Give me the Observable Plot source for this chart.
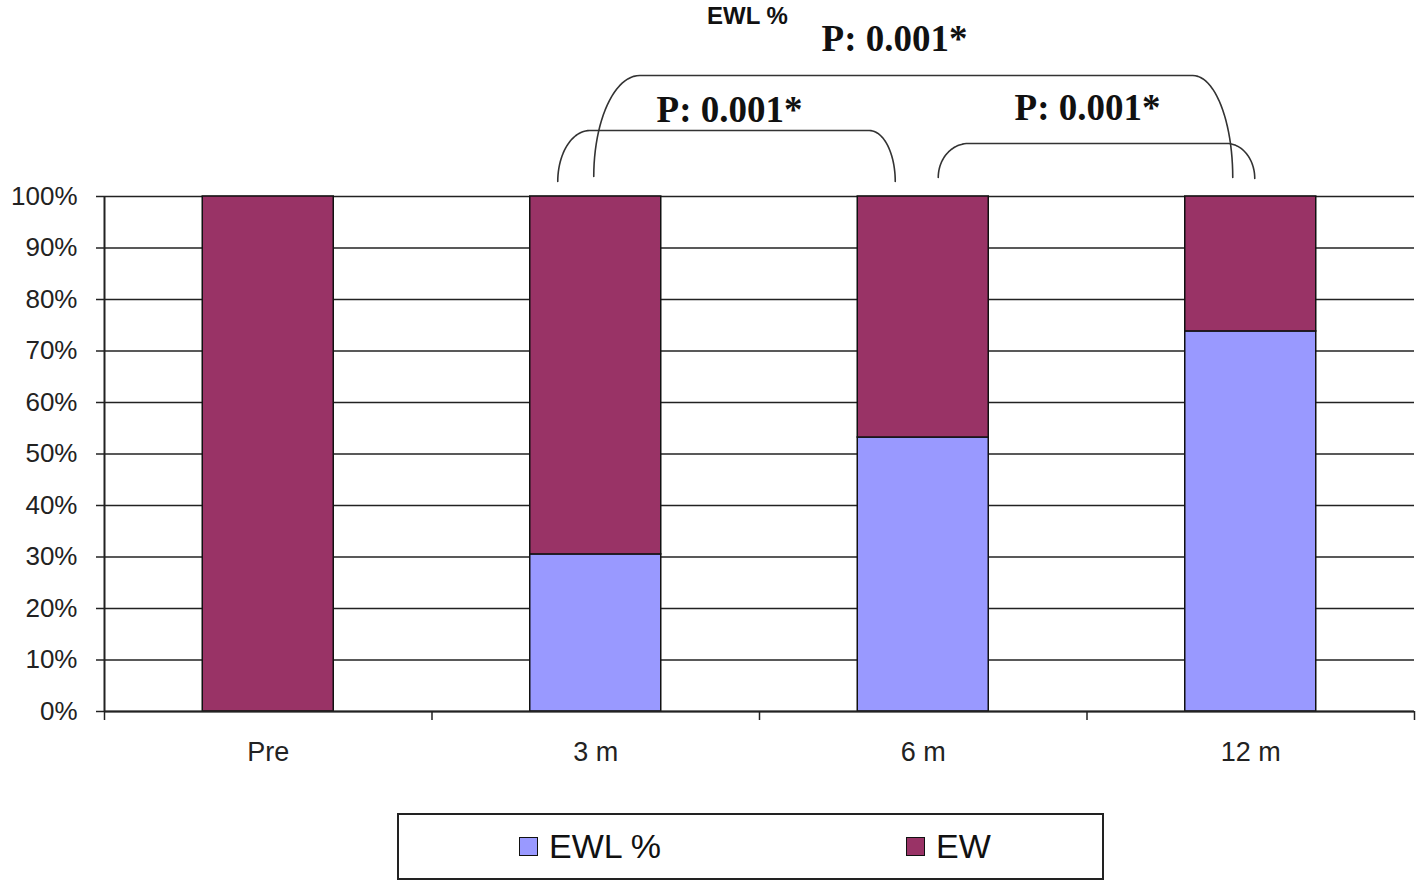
<!DOCTYPE html>
<html>
<head>
<meta charset="utf-8">
<script src="https://cdn.jsdelivr.net/npm/d3@7"></script>
<script src="https://cdn.jsdelivr.net/npm/@observablehq/plot@0.6"></script>
<style>
  html, body { margin: 0; padding: 0; background: #fff; }
  #wrap { position: relative; width: 1418px; height: 882px; font-family: "Liberation Sans", Arial, sans-serif; }
  #legend { position: absolute; left: 397px; top: 813px; width: 703px; height: 63px; border: 2px solid #222; box-sizing: content-box; }
  .item { position: absolute; top: 0; height: 63px; display: flex; align-items: center; font-size: 34px; color: #111; }
  .sw { width: 17px; height: 17px; border: 1.5px solid #111; margin-right: 11px; }
</style>
</head>
<body>
<div id="wrap">
  <div id="chart"></div>
  <div id="legend"></div>
</div>
<script>
// ---- data ----
const categories = ["Pre", "3 m", "6 m", "12 m"];
const seriesNames = ["EWL %", "EW"];
const seriesColors = ["#9999FF", "#993366"];
const ewlPercent = [0, 30.5, 53.2, 73.8];
const ewPercent = [100, 69.5, 46.8, 26.2];
const yTicks = [0, 10, 20, 30, 40, 50, 60, 70, 80, 90, 100];
const annotationTitle = "EWL %";
const comparisons = [
  { from: "3 m", to: "6 m", label: "P: 0.001*" },
  { from: "6 m", to: "12 m", label: "P: 0.001*" },
  { from: "3 m", to: "12 m", label: "P: 0.001*" }
];

// ---- layout helpers (pixels -> data units) ----
const W = 1418, H = 800, ML = 104, MR = 4, MT = 196, MB = 89;
const unitPx = (W - ML - MR) / 4;
const plotH = H - MT - MB;
const px2x = px => (px - ML) / unitPx - 0.5;
const py2y = py => (H - MB - py) / plotH * 100;

// stacked rows
const rows = [];
categories.forEach((c, i) => {
  const vals = [ewlPercent[i], ewPercent[i]];
  let acc = 0;
  seriesNames.forEach((s, k) => {
    if (vals[k] > 0) rows.push({ i, cat: c, series: s, y1: acc, y2: acc + vals[k] });
    acc += vals[k];
  });
});

// bracket styling (pixel offsets from category centers), one per comparison
const bracketStyle = [
  { dxL: -38, dxR: -28, ybL: 181, ybR: 181, top: 130, rxL: 32, rxR: 26, lx: 729, ly: 110 },
  { dxL: 15,  dxR: 4,   ybL: 177, ybR: 178, top: 143, rxL: 30, rxR: 28, lx: 1087, ly: 108 },
  { dxL: -2,  dxR: -18, ybL: 176, ybR: 177, top: 75,  rxL: 46, rxR: 40, lx: 894, ly: 39 }
];
const catCenterPx = c => ML + (categories.indexOf(c) + 0.5) * unitPx;

const bracketPts = [];
const bracketLabels = [];
comparisons.forEach((cmp, j) => {
  const st = bracketStyle[j];
  const L = catCenterPx(cmp.from) + st.dxL;
  const R = catCenterPx(cmp.to) + st.dxR;
  const n = 24;
  for (let k = 0; k <= n; k++) {
    const t = k / n * Math.PI / 2;
    bracketPts.push({ id: j, x: px2x(L + st.rxL * (1 - Math.cos(t))), y: py2y(st.ybL - (st.ybL - st.top) * Math.sin(t)) });
  }
  for (let k = n; k >= 0; k--) {
    const t = k / n * Math.PI / 2;
    bracketPts.push({ id: j, x: px2x(R - st.rxR * (1 - Math.cos(t))), y: py2y(st.ybR - (st.ybR - st.top) * Math.sin(t)) });
  }
  bracketLabels.push({ x: px2x(st.lx), y: py2y(st.ly), text: cmp.label });
});

const chart = Plot.plot({
  width: W, height: H,
  marginLeft: ML, marginRight: MR, marginTop: MT, marginBottom: MB,
  style: { fontFamily: "Liberation Sans, Arial, sans-serif", background: "#fff", color: "#222" },
  x: { domain: [-0.5, 3.5], axis: null },
  y: { domain: [0, 100], axis: null },
  color: { domain: seriesNames, range: seriesColors },
  marks: [
    Plot.ruleY(yTicks, { stroke: "#222", strokeWidth: 1.4 }),
    Plot.rect(rows, {
      x1: d => d.i - 0.2, x2: d => d.i + 0.2, y1: "y1", y2: "y2",
      fill: "series", stroke: "#111", strokeWidth: 1.5
    }),
    Plot.ruleX([-0.5], { y1: 0, y2: 100, stroke: "#222", strokeWidth: 2 }),
    Plot.ruleY([0], { stroke: "#222", strokeWidth: 2 }),
    Plot.axisY({ ticks: yTicks, tickFormat: d => d + "%", tickSize: 8, tickPadding: 19, fontSize: 26, stroke: "#222", strokeWidth: 1.5, fill: "#222", label: null }),
    Plot.axisX({ ticks: [-0.5, 0.5, 1.5, 2.5, 3.5], tickFormat: () => "", tickSize: 9, stroke: "#222", strokeWidth: 1.5, label: null }),
    Plot.axisX({ ticks: [0, 1, 2, 3], tickFormat: i => categories[i], tickSize: 0, tickPadding: 30, fontSize: 27, fill: "#222", label: null }),
    Plot.line(bracketPts, { x: "x", y: "y", z: "id", stroke: "#333", strokeWidth: 1.6 }),
    Plot.text(bracketLabels, { x: "x", y: "y", text: "text", fontFamily: "Liberation Serif, Times New Roman, serif", fontWeight: "bold", fontSize: 37, fill: "#111" }),
    Plot.text([annotationTitle], { x: px2x(747), y: py2y(16), text: d => d, fontSize: 24, fontWeight: "bold", fill: "#111" })
  ]
});
document.getElementById("chart").appendChild(chart);

// legend
const legend = document.getElementById("legend");
const legendLeft = [120, 507];
seriesNames.forEach((s, k) => {
  const it = document.createElement("div");
  it.className = "item";
  it.style.left = legendLeft[k] + "px";
  const sw = document.createElement("div");
  sw.className = "sw";
  sw.style.background = seriesColors[k];
  const tx = document.createElement("span");
  tx.textContent = s;
  it.appendChild(sw); it.appendChild(tx);
  legend.appendChild(it);
});
</script>
</body>
</html>
